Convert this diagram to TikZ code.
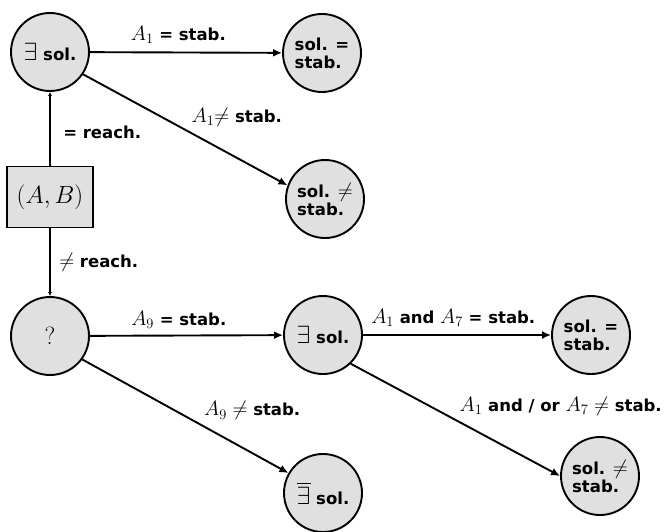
\documentclass[tikz,border=0pt]{standalone}
\usepackage{fontspec}
\setsansfont{DejaVu Sans}
\usepackage{amsmath}
\usetikzlibrary{positioning,arrows.meta}
\definecolor{mygray}{RGB}{224,224,224}
\newcommand{\mth}[1]{{\fontsize{22}{24}\selectfont$#1$}}
\newcommand{\bigex}{{\fontsize{31}{33}\selectfont$\exists$}}
\newcommand{\bignex}{{\fontsize{31}{33}\selectfont$\overline{\exists}$}}

\begin{document}
\begin{tikzpicture}[x=1pt,y=-1pt,
	line width=1.9pt,
	every node/.style={font=\sffamily\bfseries\fontsize{16.5}{18}\selectfont},
	statenode/.style={draw,circle,fill=mygray,minimum size=78pt,inner sep=0pt,align=left},
	pairnode/.style={draw,rectangle,fill=mygray,minimum width=86pt,minimum height=61pt},
	bigarrow/.style={-{Latex[length=9pt,width=8pt]}},
	smallarrow/.style={-{Latex[length=4pt,width=4pt]}},
	]
	\useasboundingbox (0,0) rectangle (669,532);
	
	% the upper row
	\node[statenode] (e1) at (50,52) {\bigex\ sol.};
	\node[statenode] (s1) at (322,53) {sol. =\\stab.};
	\node[statenode] (s2) at (325,199) {sol. \mth{\neq}\\stab.};
	
	% the pair
	\node[pairnode] (ab) at (50,197) {\fontsize{26}{28}\selectfont$(A,B)$};
	
	% the lower row
	\node[statenode] (q) at (50,336) {\fontsize{28}{30}\selectfont$?$};
	\node[statenode] (e2) at (323,335) {\bigex\ sol.};
	\node[statenode] (s3) at (591,335) {sol. =\\stab.};
	\node[statenode] (ne) at (323,493) {\bignex\ sol.};
	\node[statenode] (s4) at (600,476) {sol. \mth{\neq}\\stab.};
	
	% the edges
	\draw[smallarrow] (ab) -- (e1) node[pos=0.45,right=9pt] (lreach) {= reach.};
	\draw[smallarrow] (ab) -- (q) node[pos=0.5,right=5pt] (lnreach) {\mth{\neq} reach.};
	\draw[bigarrow] (e1) -- (s1) node[pos=0.46,above=5pt] (l1) {\mth{A_1} = stab.};
	\draw[bigarrow] (e1.-34) -- (s2.160) node[pos=0.51,anchor=south west] (l2) {\mth{A_1}\mth{\neq} stab.};
	\draw[bigarrow] (q) -- (e2) node[pos=0.46,above=3pt] (l9) {\mth{A_9} = stab.};
	\draw[bigarrow] (q.-36) -- (ne.150) node[pos=0.57,anchor=south west] (l9n) {\mth{A_9\neq} stab.};
	\draw[bigarrow] (e2) -- (s3) node[pos=0.48,above=4pt] (l17) {\mth{A_1} and \mth{A_7} = stab.};
	\draw[bigarrow] (e2.-46) -- (s4.west) node[pos=0.5,anchor=south west] (l17n) {\mth{A_1} and / or \mth{A_7\neq} stab.};
\end{tikzpicture}
\end{document}
